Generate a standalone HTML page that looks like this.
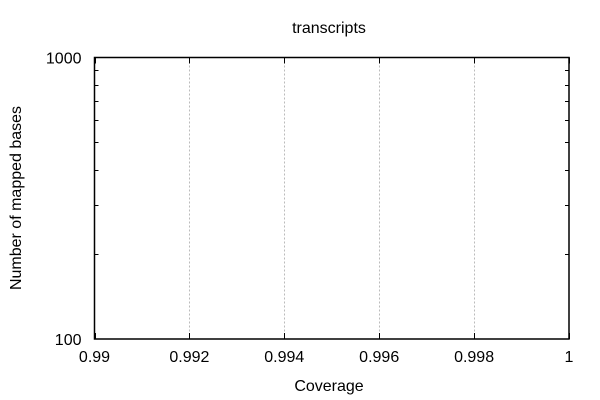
<!DOCTYPE html>
<html><head><meta charset="utf-8"><style>
html,body{margin:0;padding:0;background:#fff;}
svg{display:block;font-family:"Liberation Sans",sans-serif;}
</style></head><body>
<svg id="chart" width="600" height="400" viewBox="0 0 600 400">
<text x="329" y="33" font-size="16" text-anchor="middle">transcripts</text>
<text x="329" y="391" font-size="16" text-anchor="middle">Coverage</text>
<text transform="translate(21,198) rotate(-90)" font-size="16" text-anchor="middle">Number of mapped bases</text>
<g id="grid"></g><g id="ticks"></g><g id="labels"></g>
<rect x="94.5" y="57.5" width="474.5" height="281.5" fill="none" stroke="#000" stroke-width="1.5"/>
</svg>
<script>
const xTicks = [0.99, 0.992, 0.994, 0.996, 0.998, 1];
const xTickLabels = ["0.99", "0.992", "0.994", "0.996", "0.998", "1"];
const yMajorTicks = [100, 1000];
const yTickLabels = ["100", "1000"];
const yMinorTicks = [200, 300, 400, 500, 600, 700, 800, 900];
const seriesX = [];
const seriesY = [];

const L = 94.5, R = 569, T = 57.5, B = 339;
const xMin = 0.99, xMax = 1, yMin = 100, yMax = 1000;
function xs(v){ return L + (v - xMin) / (xMax - xMin) * (R - L); }
function ys(v){ return B - (Math.log10(v) - Math.log10(yMin)) / (Math.log10(yMax) - Math.log10(yMin)) * (B - T); }
const NS = "http://www.w3.org/2000/svg";
const grid = document.getElementById('grid'), ticks = document.getElementById('ticks'), labels = document.getElementById('labels');
function line(p, x1, y1, x2, y2, stroke, dash){
  const l = document.createElementNS(NS, 'line');
  l.setAttribute('x1', x1); l.setAttribute('y1', y1); l.setAttribute('x2', x2); l.setAttribute('y2', y2);
  l.setAttribute('stroke', stroke); l.setAttribute('stroke-width', 1);
  if (dash) l.setAttribute('stroke-dasharray', dash);
  p.appendChild(l); return l;
}
function text(x, y, s, anchor){
  const t = document.createElementNS(NS, 'text');
  t.setAttribute('x', x); t.setAttribute('y', y); t.setAttribute('font-size', 16);
  t.setAttribute('text-anchor', anchor); t.textContent = s;
  labels.appendChild(t); return t;
}
xTicks.forEach((v, i) => {
  const x = Math.round(xs(v)) + 0.5;
  if (i > 0 && i < xTicks.length - 1) {
    const g = line(grid, x, T, x, B, '#bbb', '2,2');
    
    
  }
  const t1 = line(ticks, x, B, x, B - 6, '#000');
  
  
  const t2 = line(ticks, x, T, x, T + 6, '#000');
  
  
  const lb = text(xs(v), 362, xTickLabels[i], 'middle');
  
  
});
yMajorTicks.forEach((v, i) => {
  const lb = text(L - 13, ys(v) + 6, yTickLabels[i], 'end');
  
  
});
yMinorTicks.forEach(v => {
  const y = Math.round(ys(v)) + 0.5;
  const a = line(ticks, L, y, L + 4, y, '#000');
  
  
  const b = line(ticks, R, y, R - 4, y, '#000');
  
  
});
</script>
</body></html>
